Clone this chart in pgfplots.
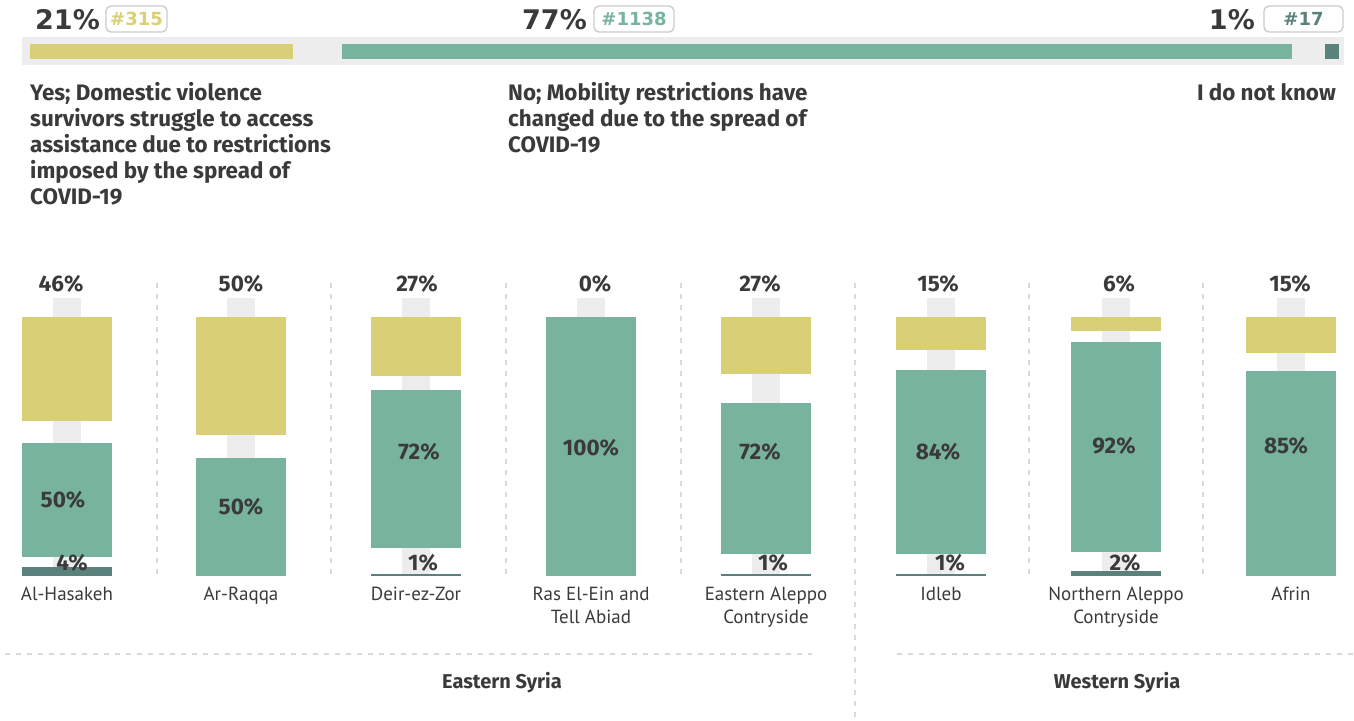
\documentclass[border=0pt]{standalone}
\usepackage{pgfplots}
\pgfplotsset{compat=1.18}
\usepackage{fontspec}
\setmainfont{PT Sans}
\newfontfamily\fira{Fira Sans}
\newfontfamily\dejavu{DejaVu Sans}
\definecolor{cyes}{HTML}{D9CF77}
\definecolor{cno}{HTML}{78B39D}
\definecolor{cdk}{HTML}{5B817C}
\definecolor{txt}{HTML}{3A3A3A}
\definecolor{stripe}{HTML}{EDEDED}
\definecolor{sep}{HTML}{DADADA}
\definecolor{bord}{HTML}{CCCCCC}
\newcommand\fs[1]{\fontsize{#1}{#1}\selectfont}
\pgfplotsset{
 canvas/.style={scale only axis, width=1354pt, height=720pt, at={(0pt,0pt)}, anchor=south west,
   xmin=0,xmax=1354,ymin=0,ymax=720,y dir=reverse, hide axis, clip=false},
 colax/.style={scale only axis, width=90pt, height=259pt, anchor=south west,
   xmin=-0.5,xmax=0.5,ymin=0, hide axis, ybar stacked, bar width=90pt, clip=false},
}
\tikzset{
 lg/.style={anchor=base west, inner sep=0pt, font=\fira\bfseries\fs{22.4}, text=txt},
 cat/.style={anchor=base, inner sep=0pt, font=\fs{19}, text=txt},
 pc/.style={anchor=base, inner sep=0pt, font=\fira\bfseries\fs{22.5}, text=txt},
 big/.style={inner sep=0pt, font=\dejavu\bfseries\fs{27}, text=txt},
 bt/.style={inner sep=0pt, font=\dejavu\bfseries\fs{18}},
 badge/.style={draw=bord, line width=1.4pt, rounded corners=5pt, fill=white},
 sepl/.style={draw=sep, line width=1.1pt, dash pattern=on 5pt off 6pt},
}
% #1 left x, #2 ymax, #3 don't know, #4 gap, #5 no, #6 gap, #7 yes
\newcommand\col[7]{%
\begin{axis}[colax, at={(#1pt,144pt)}, ymax=#2]
\addplot[fill=cdk,draw=none] coordinates {(0,#3)};
\addplot[fill=none,draw=none] coordinates {(0,#4)};
\addplot[fill=cno,draw=none] coordinates {(0,#5)};
\addplot[fill=none,draw=none] coordinates {(0,#6)};
\addplot[fill=cyes,draw=none] coordinates {(0,#7)};
\end{axis}}
\begin{document}
\begin{tikzpicture}
\useasboundingbox (0,0) rectangle (1354pt,720pt);
% background
\begin{axis}[canvas]
\fill[stripe] (22,37) rectangle (1344,65);
\fill[stripe] (53,298) rectangle (81,576);
\fill[stripe] (227,298) rectangle (255,576);
\fill[stripe] (402,298) rectangle (430,576);
\fill[stripe] (577,298) rectangle (605,576);
\fill[stripe] (752,298) rectangle (780,576);
\fill[stripe] (927,298) rectangle (955,576);
\fill[stripe] (1102,298) rectangle (1130,576);
\fill[stripe] (1277,298) rectangle (1305,576);
\draw[sepl] (157,283) -- (157,576);
\draw[sepl] (331,283) -- (331,576);
\draw[sepl] (506,283) -- (506,576);
\draw[sepl] (681,283) -- (681,576);
\draw[sepl] (1029,283) -- (1029,576);
\draw[sepl] (1203,283) -- (1203,576);
\draw[sepl] (855,283) -- (855,720);
\draw[sepl] (5,654) -- (812,654);
\draw[sepl] (897,654) -- (1354,654);
\end{axis}
% top summary bar (counts, with gaps)
\begin{axis}[scale only axis, width=1309pt, height=15pt, at={(30pt,661pt)}, anchor=south west,
  xmin=0, xmax=1568.4, ymin=-0.5, ymax=0.5, hide axis, xbar stacked, bar width=15pt, clip=false]
\addplot[fill=cyes,draw=none] coordinates {(315,0)};
\addplot[fill=none,draw=none] coordinates {(58.8,0)};
\addplot[fill=cno,draw=none] coordinates {(1138,0)};
\addplot[fill=none,draw=none] coordinates {(39.6,0)};
\addplot[fill=cdk,draw=none] coordinates {(17,0)};
\end{axis}
% columns
\col{22}{114.1}{4}{4.4}{50}{9.7}{46}
\col{196}{110.2}{0}{0}{50}{10.2}{50}
\col{371}{118.1}{1}{11.7}{72}{6.4}{27}
\col{546}{100}{0}{0}{100}{0}{0}
\col{721}{123.2}{1}{9.4}{72}{13.8}{27}
\col{896}{118.1}{1}{9.0}{84}{9.1}{15}
\col{1071}{113.3}{2}{8.5}{92}{4.8}{6}
\col{1246}{107.5}{0}{0}{85}{7.5}{15}
% foreground text
\begin{axis}[canvas]
\node[big, anchor=base west] at (35,29.5) {21\%};
\draw[badge] (106,6) rectangle (167,32);
\node[bt, text=cyes] at (136.5,19) {\#315};
\node[big, anchor=base west] at (522,29.5) {77\%};
\draw[badge] (594,6) rectangle (674,32);
\node[bt, text=cno] at (634,19) {\#1138};
\node[big, anchor=base east] at (1255,29.5) {1\%};
\draw[badge] (1264,6) rectangle (1343,32);
\node[bt, text=cdk] at (1303.5,19) {\#17};
%
\node[lg] at (30,100.5) {Yes; Domestic violence};
\node[lg] at (30,126.5) {survivors struggle to access};
\node[lg] at (30,152.5) {assistance due to restrictions};
\node[lg] at (30,178.5) {imposed by the spread of};
\node[lg] at (30,204) {COVID-19};
\node[lg] at (508,100.5) {No; Mobility restrictions have};
\node[lg] at (508,126.5) {changed due to the spread of};
\node[lg] at (508,152.5) {COVID-19};
\node[lg, anchor=base east] at (1336,100.5) {I do not know};
% column top labels (Yes)
\node[pc] at (61,291.5) {46\%};
\node[pc] at (241,291.5) {50\%};
\node[pc] at (417,291.5) {27\%};
\node[pc] at (595,291.5) {0\%};
\node[pc] at (760,291.5) {27\%};
\node[pc] at (938,291.5) {15\%};
\node[pc] at (1119,291.5) {6\%};
\node[pc] at (1290,291.5) {15\%};
% No labels
\node[pc] at (63,507.5) {50\%};
\node[pc] at (241,514.5) {50\%};
\node[pc] at (419,459.5) {72\%};
\node[pc] at (591,455.5) {100\%};
\node[pc] at (760,459.5) {72\%};
\node[pc] at (938,459.5) {84\%};
\node[pc] at (1114,453.5) {92\%};
\node[pc] at (1286,453.5) {85\%};
% Don't know labels
\node[pc] at (72,570) {4\%};
\node[pc] at (423,570) {1\%};
\node[pc] at (773,570) {1\%};
\node[pc] at (950,570) {1\%};
\node[pc] at (1125,570) {2\%};
% categories
\node[cat] at (67,600) {Al-Hasakeh};
\node[cat] at (241,600) {Ar-Raqqa};
\node[cat] at (416,600) {Deir-ez-Zor};
\node[cat] at (591,600) {Ras El-Ein and};
\node[cat] at (591,623) {Tell Abiad};
\node[cat] at (766,600) {Eastern Aleppo};
\node[cat] at (766,623) {Contryside};
\node[cat] at (941,600) {Idleb};
\node[cat] at (1116,600) {Northern Aleppo};
\node[cat] at (1116,623) {Contryside};
\node[cat] at (1291,600) {Afrin};
% groups
\node[anchor=base, inner sep=0pt, font=\fira\bfseries\fs{20}, text=txt] at (502,688) {Eastern Syria};
\node[anchor=base, inner sep=0pt, font=\fira\bfseries\fs{20}, text=txt] at (1117,688) {Western Syria};
\end{axis}
\end{tikzpicture}
\end{document}
